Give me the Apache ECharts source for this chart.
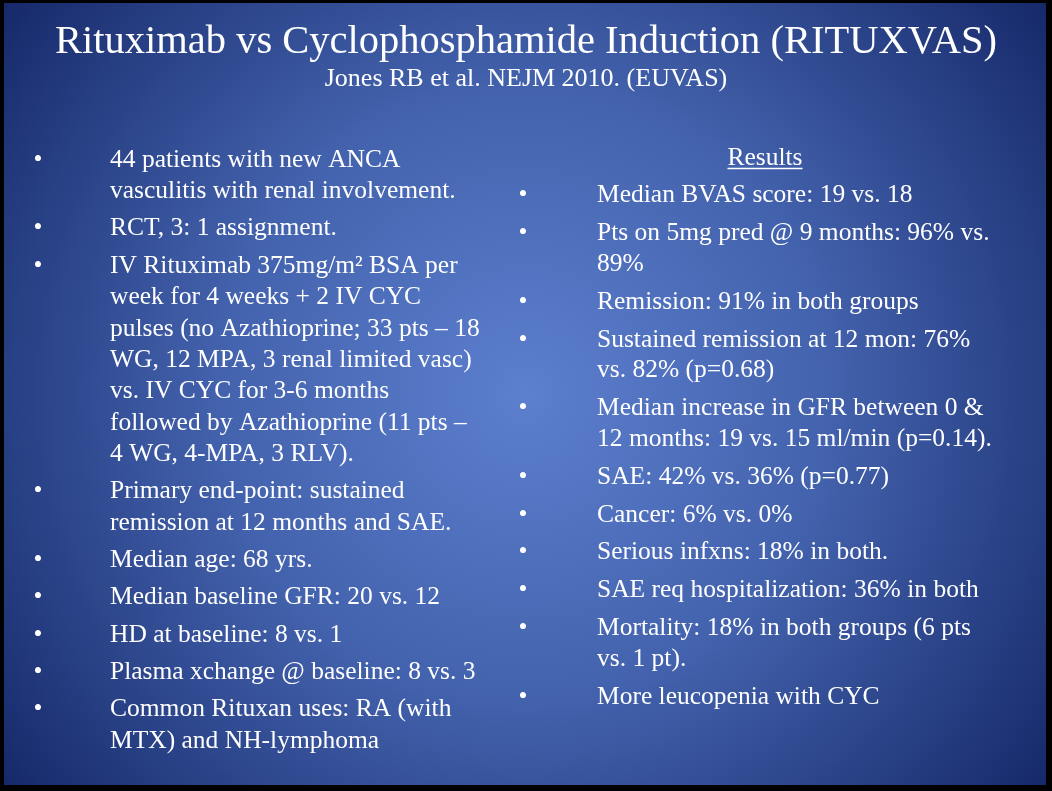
<!DOCTYPE html>
<html><head><meta charset="utf-8">
<script src="https://cdn.jsdelivr.net/npm/echarts@6/dist/echarts.min.js"></script>
<style>html,body{margin:0;padding:0;background:#000;overflow:hidden}#c{width:1052px;height:791px;}</style>
</head><body><div id="c"></div>
<script>
const titleText = 'Rituximab vs Cyclophosphamide Induction (RITUXVAS)';
const subtitleText = 'Jones RB et al. NEJM 2010. (EUVAS)';
const leftBullets = [
  ['44 patients with new ANCA', 'vasculitis with renal involvement.'],
  ['RCT, 3: 1 assignment.'],
  ['IV Rituximab 375mg/m\u00B2 BSA per', 'week for 4 weeks + 2 IV CYC', 'pulses (no Azathioprine; 33 pts \u2013 18', 'WG, 12 MPA, 3 renal limited vasc)', 'vs. IV CYC for 3-6 months', 'followed by Azathioprine (11 pts \u2013', '4 WG, 4-MPA, 3 RLV).'],
  ['Primary end-point: sustained', 'remission at 12 months and SAE.'],
  ['Median age: 68 yrs.'],
  ['Median baseline GFR: 20 vs. 12'],
  ['HD at baseline: 8 vs. 1'],
  ['Plasma xchange @ baseline: 8 vs. 3'],
  ['Common Rituxan uses: RA (with', 'MTX) and NH-lymphoma']
];
const resultsHeading = 'Results';
const rightBullets = [
  ['Median BVAS score: 19 vs. 18'],
  ['Pts on 5mg pred @ 9 months: 96% vs.', '89%'],
  ['Remission: 91% in both groups'],
  ['Sustained remission at 12 mon: 76%', 'vs. 82% (p=0.68)'],
  ['Median increase in GFR between 0 &', '12 months: 19 vs. 15 ml/min (p=0.14).'],
  ['SAE: 42% vs. 36% (p=0.77)'],
  ['Cancer: 6% vs. 0%'],
  ['Serious infxns: 18% in both.'],
  ['SAE req hospitalization: 36% in both'],
  ['Mortality: 18% in both groups (6 pts', 'vs. 1 pt).'],
  ['More leucopenia with CYC']
];

const SERIF = "'Liberation Serif','Times New Roman',serif";
const BODY = 25.5;
const BASE = 19; // baseline offset from top for body text
const chart = echarts.init(document.getElementById('c'), null, {renderer: 'canvas'});
const els = [];

els.push({type: 'rect', shape: {x: 4, y: 3, width: 1042, height: 782}, silent: true,
  style: {fill: new echarts.graphic.RadialGradient(0.5, 0.5, 0.85, [
    {offset: 0, color: '#5c7fce'},
    {offset: 0.45, color: '#4463ae'},
    {offset: 1, color: '#142767'}
  ])}});

function txt(s, x, top, size, align) {
  els.push({type: 'text', silent: true, x: x, y: top,
    style: {text: s, fill: '#ffffff', fontFamily: SERIF, fontSize: size,
      align: align || 'left', verticalAlign: 'top'}});
}
function measure(s, size) {
  const ctx = document.createElement('canvas').getContext('2d');
  ctx.font = size + 'px ' + SERIF;
  return ctx.measureText(s).width;
}

txt(titleText, 526, 22, 40.5, 'center');
txt(subtitleText, 526, 66, 26, 'center');

function column(list, bulletX, textX, firstBaseline, lineGap, paraGap) {
  let b = firstBaseline;
  list.forEach(function (para) {
    txt('\u2022', bulletX, b - BASE, BODY, 'center');
    para.forEach(function (line, i) {
      if (i > 0) b += lineGap;
      txt(line, textX, b - BASE, BODY);
    });
    b += paraGap;
  });
}
column(leftBullets, 38, 110, 166, 31.4, 37.3);

txt(resultsHeading, 765, 164 - BASE, BODY, 'center');
const rw = measure(resultsHeading, BODY);
els.push({type: 'line', silent: true, shape: {x1: 765 - rw / 2, y1: 168.5, x2: 765 + rw / 2, y2: 168.5},
  style: {stroke: '#ffffff', lineWidth: 1.3}});
column(rightBullets, 523, 597, 201.7, 30.8, 37.8);

chart.setOption({backgroundColor: '#000', animation: false, graphic: {elements: els}});
</script>
</body></html>
